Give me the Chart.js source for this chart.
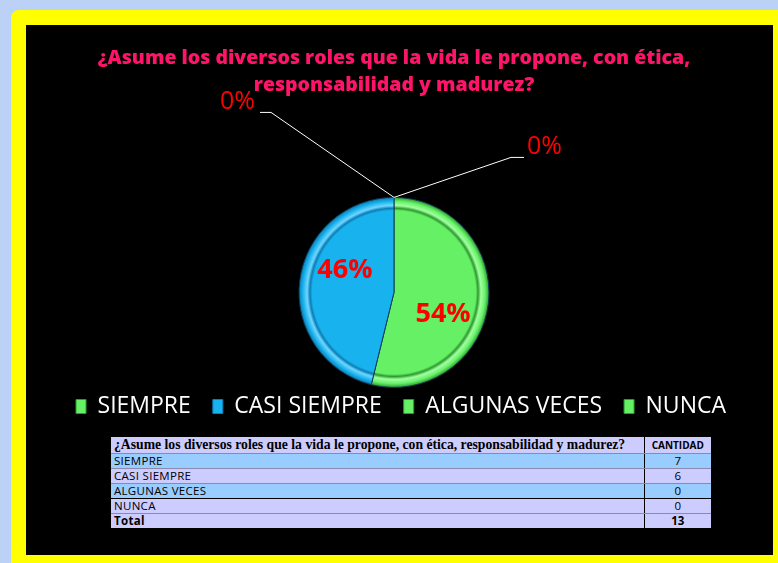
<!DOCTYPE html>
<html lang="es">
<head>
<meta charset="utf-8">
<title>¿Asume los diversos roles que la vida le propone, con ética, responsabilidad y madurez?</title>
<script src="https://cdn.jsdelivr.net/npm/chart.js@4.4.1/dist/chart.umd.min.js"></script>
<style>
  html, body { margin: 0; padding: 0; }
  body {
    width: 778px; height: 563px; overflow: hidden; position: relative;
    background: #bcd1f6; font-family: 'Open Sans', sans-serif;
  }
  #frame {
    position: absolute; left: 11px; top: 10px; width: 790px; height: 580px;
    background: #ffff00; border-top-left-radius: 8px;
  }
  #panel {
    position: absolute; left: 26px; top: 25px; width: 747px; height: 530px;
    background: #000;
  }
  #chartBox { position: absolute; left: 26px; top: 25px; width: 747px; height: 403px; }
  #dataTable {
    position: absolute; left: 111px; top: 437px; width: 600px;
    border-collapse: collapse; table-layout: fixed;
  }
  #dataTable td {
    padding: 0 0 0 3px; height: 14px; line-height: 14px;
    font-family: 'Open Sans', sans-serif; font-size: 11.5px; letter-spacing: 0.3px; color: #000;
    border-bottom: 1px solid #8a8ab0; white-space: nowrap; overflow: hidden;
  }
  #dataTable td.num { text-align: center; padding: 0; border-left: 1px solid #000; letter-spacing: 0; }
  #dataTable tr.head td { height: 16px; line-height: 16px; }
  #dataTable tr.head td.q { font-family: 'Liberation Serif', 'Times New Roman', serif; font-weight: bold; font-size: 13.7px; letter-spacing: 0; }
  #dataTable tr.head td.num { font-weight: bold; font-size: 10px; }
  #dataTable tr.total td { font-weight: bold; border-bottom: none; }
  #dataTable tr.dark td { border-bottom-color: #000; }
</style>
</head>
<body>
<div id="frame"></div>
<div id="panel"></div>
<div id="chartBox"><canvas id="pie"></canvas></div>
<table id="dataTable"><colgroup><col style="width:533px"><col style="width:67px"></colgroup><tbody></tbody></table>

<script>
// ---- data ----
const titleLines = ['¿Asume los diversos roles que la vida le propone, con ética,', 'responsabilidad y madurez?'];
const tableQuestion = '¿Asume los diversos roles que la vida le propone, con ética, responsabilidad y madurez?';
const valueHeader = 'CANTIDAD';
const totalLabel = 'Total';
const categories = ['SIEMPRE', 'CASI SIEMPRE', 'ALGUNAS VECES', 'NUNCA'];
const cantidad = [7, 6, 0, 0];

// colours per category (base, light, dark)
const sliceBase = ['#66f066', '#18b2ee', '#66f066', '#66f066'];
const sliceLight = ['#a0ffa0', '#6fd6ff', '#a0ffa0', '#a0ffa0'];
const sliceDark = ['#2e9a2e', '#0b7db5', '#2e9a2e', '#2e9a2e'];
const rowColors = ['#99ccff', '#ccccff', '#99ccff', '#ccccff'];

const PIE_RADIUS = 95;

/**
 * Build the data table under the chart
 */
function buildTable() {
    const body = document.querySelector('#dataTable tbody');
    let html = `<tr class="head" style="background:#ccccff"><td class="q">${tableQuestion}</td><td class="num">${valueHeader}</td></tr>`;
    categories.forEach((cat, i) => {
        const cls = i === 2 ? 'dark' : '';
        html += `<tr class="${cls}" style="background:${rowColors[i]}"><td>${cat}</td><td class="num">${cantidad[i]}</td></tr>`;
    });
    const total = cantidad.reduce((a, b) => a + b, 0);
    html += `<tr class="total" style="background:#ccccff"><td>${totalLabel}</td><td class="num">${total}</td></tr>`;
    body.innerHTML = html;
}

/**
 * Bevelled radial fill for each slice
 */
function sliceFill(context) {
    const chart = context.chart;
    const area = chart.chartArea;
    const i = context.dataIndex;
    if (!area) return sliceBase[i];
    const cx = (area.left + area.right) / 2;
    const cy = (area.top + area.bottom) / 2;
    const g = chart.ctx.createRadialGradient(cx, cy, 0, cx, cy, PIE_RADIUS);
    g.addColorStop(0, sliceBase[i]);
    g.addColorStop(0.86, sliceBase[i]);
    g.addColorStop(0.885, sliceDark[i]);
    g.addColorStop(0.915, sliceLight[i]);
    g.addColorStop(0.96, sliceBase[i]);
    g.addColorStop(1, sliceDark[i]);
    return g;
}

// percentage labels, with leader lines for empty slices
const sliceLabels = {
    id: 'sliceLabels',
    afterDatasetsDraw(chart) {
        const ctx = chart.ctx;
        const data = chart.data.datasets[0].data;
        const total = data.reduce((a, b) => a + b, 0);
        const leaders = [
            { dx: -123, dy: -85, tail: -11 },
            { dx: 117, dy: -40, tail: 13 }
        ];
        let zeroCount = 0;
        ctx.save();
        ctx.fillStyle = '#ff0000';
        chart.getDatasetMeta(0).data.forEach((arc, i) => {
            const p = arc.getProps(['x', 'y', 'startAngle', 'endAngle', 'outerRadius'], true);
            const text = Math.round(data[i] / total * 100) + '%';
            if (data[i] > 0) {
                const mid = (p.startAngle + p.endAngle) / 2;
                const r = p.outerRadius * 0.52;
                const lift = Math.sign(Math.sin(mid)) * 16;
                ctx.font = 'bold 27px "Open Sans"';
                ctx.textAlign = 'center';
                ctx.textBaseline = 'middle';
                ctx.fillText(text, p.x + Math.cos(mid) * r, p.y + Math.sin(mid) * r + lift);
            } else {
                const l = leaders[zeroCount % leaders.length];
                zeroCount++;
                const sx = p.x + Math.cos(p.startAngle) * p.outerRadius;
                const sy = p.y + Math.sin(p.startAngle) * p.outerRadius;
                const ex = sx + l.dx, ey = sy + l.dy;
                ctx.strokeStyle = '#ffffff';
                ctx.lineWidth = 1;
                ctx.beginPath();
                ctx.moveTo(sx, sy);
                ctx.lineTo(ex, ey);
                ctx.lineTo(ex + l.tail, ey);
                ctx.stroke();
                ctx.font = '25px "Open Sans"';
                ctx.textBaseline = 'middle';
                ctx.textAlign = l.tail < 0 ? 'right' : 'left';
                ctx.fillText(text, ex + l.tail + (l.tail < 0 ? -5 : 3), ey - 11);
            }
        });
        ctx.restore();
    }
};

// legend sits a little right of the pie centre
const legendShift = {
    id: 'legendShift',
    afterLayout(chart) {
        chart.legend.left += 7;
        chart.legend.right += 7;
    }
};

function createPieChart() {
    const ctx = document.getElementById('pie').getContext('2d');
    new Chart(ctx, {
        type: 'pie',
        data: {
            labels: categories,
            datasets: [{
                data: cantidad,
                backgroundColor: sliceFill,
                borderColor: '#0d3b55',
                borderWidth: 1,
                hoverOffset: 0,
                radius: PIE_RADIUS
            }]
        },
        options: {
            responsive: true,
            maintainAspectRatio: false,
            animation: false,
            layout: { padding: { left: 0, right: 11, top: 0, bottom: 0 } },
            plugins: {
                title: {
                    display: true,
                    text: titleLines,
                    color: '#ff1469',
                    font: { family: 'Open Sans', size: 19.5, weight: '800', lineHeight: 1.38 },
                    padding: { top: 20, bottom: 113 }
                },
                legend: {
                    position: 'bottom',
                    labels: {
                        color: '#ffffff',
                        boxWidth: 10,
                        boxHeight: 14,
                        padding: 22,
                        font: { family: 'Open Sans', size: 23 },
                        generateLabels: function(chart) {
                            return categories.map((cat, i) => ({
                                text: cat,
                                fillStyle: sliceBase[i],
                                strokeStyle: sliceDark[i],
                                lineWidth: 1,
                                fontColor: '#ffffff',
                                index: i
                            }));
                        }
                    }
                },
                tooltip: { enabled: false }
            }
        },
        plugins: [sliceLabels, legendShift]
    });
}

buildTable();
createPieChart();
</script>
</body>
</html>
